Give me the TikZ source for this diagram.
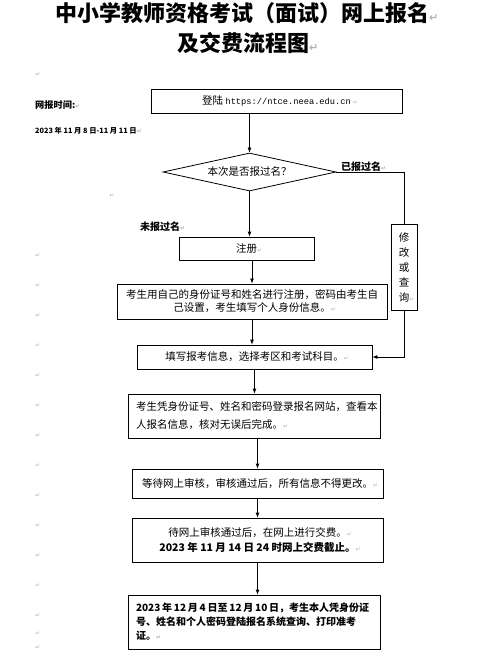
\documentclass[tikz,border=0pt]{standalone}
\usepackage{fontspec}
\setmainfont{Noto Sans CJK SC}
\newfontfamily\markfont{DejaVu Sans}
\newfontfamily\urlfont{Liberation Mono}
\usetikzlibrary{arrows.meta, shapes.geometric, calc}

% paragraph marks as Word shows them
\newcommand{\pmark}{{\markfont\fontsize{6}{6}\selectfont\textcolor{gray!60}{↵}}}
\newcommand{\bigpmark}{{\markfont\fontsize{11}{11}\selectfont\textcolor{gray!60}{↵}}}

\begin{document}
\begin{tikzpicture}[x=1pt, y=-1pt,
    flowbox/.style={draw, line width=0.8pt, inner sep=0pt, align=center,
      font=\fontsize{10.5}{13}\selectfont},
    flowline/.style={line width=0.8pt},
    flowarrow/.style={line width=0.8pt, -{Latex[length=5pt, width=4pt]}},
    sidelabel/.style={anchor=west, inner sep=0pt, font=\bfseries\fontsize{10}{10}\selectfont},
    pilcrow/.style={inner sep=0pt, font=\markfont\fontsize{6}{6}\selectfont, text=gray!60}]

    \useasboundingbox (0,0) rectangle (477,660);

    % Title
    \node[anchor=west, inner sep=0pt, font=\bfseries\fontsize{22}{22}\selectfont]
      (title1) at (55,13) {中小学教师资格考试（面试）网上报名\bigpmark};
    \node[anchor=west, inner sep=0pt, font=\bfseries\fontsize{22}{22}\selectfont]
      (title2) at (177,43) {及交费流程图\bigpmark};

    % Registration time on the left
    \node[anchor=west, inner sep=0pt, font=\bfseries\fontsize{9.2}{9.2}\selectfont]
      (timehead) at (35,105) {网报时间:\pmark};
    \node[anchor=west, inner sep=0pt, font=\bfseries\fontsize{7.3}{7.3}\selectfont]
      (timespan) at (35,131) {2023 年 11 月 8 日-11 月 11 日\pmark};

    % Empty paragraphs down the margin
    \node[pilcrow] (pmtop) at (38,75) {↵};
    \node[pilcrow] (pmmid) at (112,196) {↵};
    \foreach \y [count=\i] in {256,286,316,346,376,406,436,466,496,526,556,586,616,634,648}
      \node[pilcrow] (pm\i) at (38,\y) {↵};

    % Login
    \node[flowbox, minimum width=251, minimum height=24] (login) at (276.5,101)
      {登陆 {\urlfont\fontsize{8.7}{13}\selectfont https://ntce.neea.edu.cn}\rlap{ \pmark}};

    % Decision
    \node[draw, diamond, aspect=4.5, line width=0.8pt, inner sep=0pt, minimum width=173,
      minimum height=38, font=\fontsize{10.5}{13}\selectfont] (diam) at (249.5,172)
      {本次是否报过名？};
    \node[sidelabel] (donelabel) at (341,167) {已报过名\pmark};
    \node[sidelabel] (newlabel) at (140,227) {未报过名\pmark};

    % Modify or query
    \node[flowbox, minimum width=26, minimum height=86,
      font=\fontsize{10.5}{15}\selectfont] (side) at (404,267)
      {修\\改\\或\\查\\询\rlap{\pmark}};

    % Steps
    \node[flowbox, minimum width=135, minimum height=23] (reg) at (246.5,248.5)
      {注册\rlap{\pmark}};
    \node[flowbox, minimum width=270, minimum height=35] (idstep) at (252,301.5)
      {考生用自己的身份证号和姓名进行注册，密码由考生自\\
       己设置，考生填写个人身份信息。\rlap{\pmark}};
    \node[flowbox, minimum width=235, minimum height=24] (fillin) at (254.5,357)
      {填写报考信息，选择考区和考试科目。\rlap{\pmark}};
    \node[flowbox, minimum width=252, minimum height=44, text width=236, align=left,
      font=\fontsize{10.5}{18}\selectfont] (check) at (254,416)
      {\mbox{考生凭身份证号、姓名和密码登录报名网站，查看本}\\
       人报名信息，核对无误后完成。\pmark};
    \node[flowbox, minimum width=251, minimum height=29] (review) at (257.5,483.5)
      {等待网上审核，审核通过后，所有信息不得更改。\rlap{\pmark}};
    \node[flowbox, minimum width=251, minimum height=44,
      font=\fontsize{10.5}{15}\selectfont] (pay) at (257.5,540)
      {待网上审核通过后，在网上进行交费。\rlap{\pmark}\\
       \textbf{2023 年 11 月 14 日 24 时网上交费截止。}\rlap{\pmark}};
    \node[flowbox, minimum width=252, minimum height=54, text width=236, align=left,
      font=\bfseries\fontsize{10}{14}\selectfont] (ticket) at (254,622)
      {\spaceskip=1.8pt\relax
       \mbox{2023 年 12 月 4 日至 12 月 10 日，考生本人凭身份证}\\
       \mbox{号、姓名和个人密码登陆报名系统查询、打印准考}\\
       证。\pmark};

    % Connectors
    \draw[flowarrow] (diam |- login.south) -- (diam.north);
    \draw[flowarrow] (diam.south) -- (diam.south |- reg.north);
    \draw[flowline] (diam.east) -| (side.north);
    \draw[flowarrow] (idstep |- reg.south) -- (idstep.north);
    \draw[flowarrow] (idstep.south) -- (idstep.south |- fillin.north);
    \draw[flowarrow] (side.south) |- (fillin.east);
    \draw[flowarrow] (fillin.south) -- (fillin.south |- check.north);
    \draw[flowarrow] (review |- check.south) -- (review.north);
    \draw[flowarrow] (review.south) -- (pay.north);
    \draw[flowarrow] (pay.south) -- (pay.south |- ticket.north);

\end{tikzpicture}
\end{document}
